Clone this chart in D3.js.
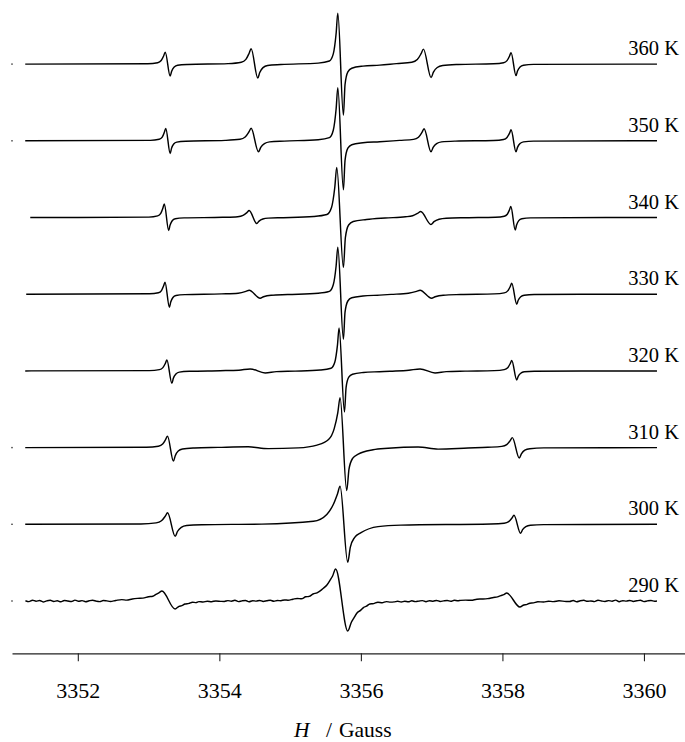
<!DOCTYPE html>
<html>
<head>
<meta charset="utf-8">
<script src="https://cdn.jsdelivr.net/npm/d3@7"></script>
<style>
  body { margin: 0; background: #fff; }
  svg { display: block; }
</style>
</head>
<body>
<svg id="chart" width="685" height="742"></svg>
<script>
// EPR spectra, one trace per temperature, stacked from 290 K (bottom) to 360 K (top).
// Each trace: [field in Gauss, signal in arbitrary units relative to its own baseline].
const temperatures = ["290 K", "300 K", "310 K", "320 K", "330 K", "340 K", "350 K", "360 K"];
const fieldTicks = [3352, 3354, 3356, 3358, 3360];
const fieldRange = [3351.07, 3360.58];
const strayField = 3351.07;
const strayTemps = ["290 K", "300 K", "310 K", "350 K", "360 K"];

const trace360 = [
  [3351.257,0],[3352.988,0.4],[3353.129,1.4],[3353.178,3.6],[3353.214,8.4],[3353.235,12],[3353.305,-12],[3353.326,-7.2],[3353.362,-3],[3353.411,-1.2],[3353.552,-0.4],
  [3354.123,0.5],[3354.310,1.9],[3354.375,4.7],[3354.421,10.9],[3354.449,15.5],[3354.543,-14],[3354.571,-8.4],[3354.617,-3.5],[3354.682,-1.4],[3354.869,-0.4],
  [3355.397,1.0],[3355.555,3.1],[3355.610,10.2],[3355.650,30.6],[3355.674,51],[3355.753,-51],[3355.776,-20.4],[3355.816,-7.7],[3355.871,-4.1],[3356.029,-2.0],[3356.266,-1.0],
  [3356.503,0.5],[3356.720,1.8],[3356.797,4.5],[3356.851,10.5],[3356.884,15],[3356.992,-13.5],[3357.025,-8.1],[3357.079,-3.4],[3357.156,-1.4],[3357.373,-0.4],
  [3357.875,0.3],[3358.016,1.4],[3358.065,3.5],[3358.101,8.1],[3358.122,11.5],[3358.192,-11.5],[3358.213,-6.9],[3358.249,-2.9],[3358.298,-1.2],[3358.439,-0.3],
  [3360.184,0]
];

const trace350 = [
  [3351.257,0],[3353.025,0.4],[3353.150,1.5],[3353.193,3.7],[3353.224,8.7],[3353.243,12.4],[3353.305,-12.7],[3353.324,-7.6],[3353.355,-3.2],[3353.398,-1.3],[3353.523,-0.4],
  [3354.083,0.4],[3354.292,1.5],[3354.365,3.8],[3354.417,8.8],[3354.449,12.5],[3354.553,-11],[3354.585,-6.6],[3354.637,-2.8],[3354.710,-1.1],[3354.919,-0.3],
  [3355.397,1.1],[3355.555,3.2],[3355.610,10.6],[3355.650,31.8],[3355.674,53],[3355.753,-49],[3355.776,-19.6],[3355.816,-7.4],[3355.871,-3.9],[3356.029,-2.0],[3356.266,-1.0],
  [3356.547,0.4],[3356.744,1.4],[3356.814,3.6],[3356.863,8.4],[3356.893,12],[3356.991,-11],[3357.021,-6.6],[3357.070,-2.8],[3357.140,-1.1],[3357.337,-0.3],
  [3357.875,0.3],[3358.016,1.3],[3358.065,3.3],[3358.101,7.7],[3358.122,11],[3358.192,-11],[3358.213,-6.6],[3358.249,-2.8],[3358.298,-1.1],[3358.439,-0.3],
  [3360.184,0]
];

const trace340 = [
  [3351.328,0],[3353.004,0.4],[3353.129,1.6],[3353.172,4.1],[3353.203,9.5],[3353.222,13.5],[3353.284,-13],[3353.303,-7.8],[3353.334,-3.3],[3353.377,-1.3],[3353.502,-0.4],
  [3354.045,0.2],[3354.260,0.8],[3354.335,2.1],[3354.389,4.9],[3354.421,7],[3354.529,-6],[3354.561,-3.6],[3354.615,-1.5],[3354.690,-0.6],[3354.905,-0.2],
  [3355.333,1.0],[3355.520,3.0],[3355.585,10],[3355.631,30],[3355.659,50],[3355.753,-50],[3355.781,-20],[3355.827,-7.5],[3355.892,-4],[3356.079,-2],
  [3356.342,-0.5],[3356.630,0.7],[3356.731,1.8],[3356.803,4.2],[3356.846,6],[3356.990,-7],[3357.033,-4.2],[3357.105,-1.8],[3357.206,-0.7],[3357.494,-0.2],
  [3357.901,0.3],[3358.026,1.3],[3358.069,3.3],[3358.100,7.7],[3358.119,11],[3358.181,-12.5],[3358.200,-7.5],[3358.231,-3.1],[3358.274,-1.3],[3358.399,-0.4],
  [3360.184,0]
];

const trace330 = [
  [3351.271,0],[3353.014,0.4],[3353.139,1.4],[3353.182,3.6],[3353.213,8.4],[3353.232,12],[3353.294,-13],[3353.313,-7.8],[3353.344,-3.3],[3353.387,-1.3],[3353.512,-0.4],
  [3354.033,0.3],[3354.266,1.0],[3354.375,2.8],[3354.421,4],[3354.577,-4],[3354.623,-2.6],[3354.732,-1.0],[3354.965,-0.3],
  [3355.397,0.9],[3355.555,2.8],[3355.610,9.4],[3355.650,28.2],[3355.674,47],[3355.753,-45],[3355.776,-18],[3355.816,-6.8],[3355.871,-3.6],[3356.029,-1.8],[3356.266,-0.9],
  [3356.427,-0.2],[3356.672,1.0],[3356.787,2.8],[3356.836,4],[3357.000,-4],[3357.049,-2.6],[3357.164,-1.0],[3357.409,-0.3],
  [3357.885,0.3],[3358.026,1.3],[3358.075,3.3],[3358.111,7.7],[3358.132,11],[3358.202,-10],[3358.223,-6],[3358.259,-2.5],[3358.308,-1.0],[3358.449,-0.3],
  [3360.184,0]
];

const trace320 = [
  [3351.257,0],[3353.012,0.3],[3353.153,1.3],[3353.202,3.3],[3353.238,7.7],[3353.259,11],[3353.329,-12.4],[3353.350,-7.4],[3353.386,-3.1],[3353.435,-1.2],[3353.576,-0.4],
  [3354.011,0.2],[3354.276,0.7],[3354.435,2],[3354.647,-2],[3354.806,-0.7],[3355.071,-0.2],
  [3355.425,0.9],[3355.578,2.6],[3355.631,8.6],[3355.669,25.8],[3355.692,43],[3355.768,-41],[3355.791,-16.4],[3355.829,-6.2],[3355.882,-3.3],[3356.035,-1.6],[3356.263,-0.8],
  [3356.412,-0.3],[3356.677,0.7],[3356.836,2],[3357.048,-2],[3357.207,-0.7],[3357.472,-0.2],
  [3357.885,0.3],[3358.026,1.3],[3358.075,3.2],[3358.111,7.4],[3358.132,10.5],[3358.202,-9],[3358.223,-5.4],[3358.259,-2.3],[3358.308,-0.9],[3358.449,-0.3],
  [3360.184,0]
];

const trace310 = [
  [3351.257,0],[3352.970,0.3],[3353.139,1.4],[3353.199,3.5],[3353.241,8.1],[3353.267,11.5],[3353.351,-13.5],[3353.377,-8.1],[3353.419,-3.4],[3353.479,-1.4],[3353.648,-0.4],
  [3353.983,0.2],[3354.407,0.8],[3354.689,-1],[3355.113,-0.3],
  [3355.380,2.5],[3355.543,8],[3355.623,19],[3355.674,35],[3355.706,50],[3355.800,-43],[3355.832,-21.5],[3355.883,-10.8],[3355.963,-6.5],[3356.172,-2.2],
  [3356.384,-0.7],[3356.808,0.6],[3357.090,-1.5],[3357.514,-0.4],
  [3357.794,0.3],[3357.991,1.2],[3358.061,3],[3358.110,7],[3358.140,10],[3358.238,-10.5],[3358.268,-6.3],[3358.317,-2.6],[3358.387,-1.1],[3358.584,-0.3],
  [3360.184,0]
];

const trace300 = [
  [3351.257,0],[3352.892,0.3],[3353.107,1.4],[3353.182,3.5],[3353.236,8.1],[3353.268,11.5],[3353.376,-12],[3353.408,-7.2],[3353.462,-3],[3353.537,-1.2],[3353.752,-0.4],
  [3354.600,0.2],[3355.330,3.0],[3355.518,9.9],[3355.610,19.8],[3355.669,30.4],[3355.706,38],[3355.814,-38],[3355.851,-22.8],[3355.910,-13.3],[3356.002,-8.4],[3356.243,-2.3],[3356.566,-0.8],
  [3357.837,0.3],[3358.024,1.1],[3358.089,2.7],[3358.135,6.3],[3358.163,9],[3358.257,-9],[3358.285,-5.4],[3358.331,-2.3],[3358.396,-0.9],[3358.583,-0.3],
  [3360.184,0]
];

const trace290 = [
  [3351.26,0.3],[3351.31,-0.6],[3351.36,0.8],[3351.41,-0.2],[3351.46,0.5],[3351.51,-0.9],[3351.56,0.1],[3351.61,0.7],[3351.66,-0.4],[3351.71,0.2],
  [3351.76,-0.8],[3351.81,0.6],[3351.86,0.0],[3351.91,-0.5],[3351.96,0.9],[3352.01,-0.3],[3352.06,0.4],[3352.11,-0.7],[3352.16,0.2],[3352.21,0.8],
  [3352.26,-0.1],[3352.31,-0.6],[3352.36,0.5],[3352.41,0.1],[3352.46,-0.4],
  [3352.535,0.5],[3352.62,1.4],[3352.69,0.9],[3352.77,2.0],[3352.843,2.6],[3352.92,2.9],[3353.001,4.3],[3353.06,4.8],[3353.104,6.6],[3353.15,8.4],[3353.188,10],
  [3353.374,-8],[3353.430,-5.3],[3353.47,-4.6],[3353.514,-3.0],[3353.57,-2.4],[3353.62,-1.2],[3353.67,-1.6],[3353.710,-0.6],[3353.77,-1.0],[3353.83,-0.2],[3353.89,-0.7],[3353.95,0.1],[3354.027,-0.4],
  [3354.07,-0.5],[3354.12,0.4],[3354.17,-0.2],[3354.22,0.7],[3354.27,-0.6],[3354.32,0.1],[3354.37,0.5],[3354.42,-0.8],[3354.47,0.3],[3354.52,-0.1],
  [3354.57,0.6],[3354.62,-0.4],[3354.67,0.2],[3354.72,0.8],[3354.77,-0.3],[3354.82,0.5],[3354.87,0.3],[3354.92,1.1],[3354.97,0.8],
  [3355.039,1.8],[3355.10,2.6],[3355.16,2.2],[3355.22,4.2],[3355.27,4.6],[3355.324,7],[3355.38,8.2],[3355.43,10.4],[3355.470,12.8],[3355.52,16.0],[3355.565,20.8],[3355.60,25],[3355.643,32],
  [3355.815,-30],[3355.867,-21],[3355.90,-17.2],[3355.945,-12],[3355.99,-9.6],[3356.04,-6.3],[3356.08,-5.1],[3356.126,-3],[3356.18,-2.6],[3356.24,-1.2],[3356.30,-1.7],[3356.36,-0.6],[3356.419,-1.1],
  [3356.47,-0.9],[3356.52,-0.3],[3356.57,-1.0],[3356.62,-0.2],[3356.67,-0.8],[3356.72,0.2],[3356.77,-0.6],[3356.82,-0.1],[3356.87,0.4],[3356.92,-0.7],
  [3356.97,0.3],[3357.02,-0.2],[3357.07,0.6],[3357.12,-0.5],[3357.17,0.1],[3357.22,0.5],[3357.27,-0.3],[3357.32,0.7],[3357.37,0.2],
  [3357.408,0.6],[3357.48,0.9],[3357.56,0.7],[3357.64,1.8],[3357.716,2.0],[3357.79,2.4],[3357.874,3.5],[3357.93,4.1],[3357.977,5.4],[3358.02,6.4],[3358.061,8],
  [3358.247,-6],[3358.303,-4.0],[3358.34,-3.6],[3358.387,-2.2],[3358.44,-1.9],[3358.50,-0.8],[3358.583,-1.0],[3358.65,-0.2],[3358.72,-0.6],[3358.80,0.2],[3358.900,-0.4],
  [3358.95,-0.4],[3359.00,0.5],[3359.05,-0.8],[3359.10,0.2],[3359.15,0.7],[3359.20,-0.3],[3359.25,0.1],[3359.30,-0.6],[3359.35,0.8],[3359.40,0.0],
  [3359.45,-0.5],[3359.50,0.4],[3359.55,-0.2],[3359.60,0.9],[3359.65,-0.7],[3359.70,0.3],[3359.75,-0.1],[3359.80,0.6],[3359.85,-0.4],[3359.90,0.2],
  [3359.95,0.7],[3360.00,-0.6],[3360.05,0.1],[3360.10,0.5],[3360.15,-0.2],[3360.184,0]
];

const traces = [trace290, trace300, trace310, trace320, trace330, trace340, trace350, trace360];

// Layout
const axisY = 653.3;
const traceStep = 76.7;           // vertical offset between stacked spectra, signal units
const serif = "'Liberation Serif', 'Times New Roman', serif";

const svg = d3.select("#chart");

const x = d3.scaleLinear().domain(fieldRange).range([12, 685]);
const y = d3.scaleLinear().domain([-60, 600]).range([661, 1]);

const offsetOf = i => i * traceStep;

const lineFor = i => d3.line()
  .x(d => x(d[0]))
  .y(d => y(d[1] + offsetOf(i)))
  .curve(d3.curveMonotoneX);

// Spectra
svg.append("g")
  .selectAll("path")
  .data(traces)
  .join("path")
  .attr("d", (d, i) => lineFor(i)(d))
  .attr("fill", "none")
  .attr("stroke", "#000")
  .attr("stroke-width", 1.45)
  .attr("stroke-linejoin", "round");

// Isolated leading points at the start of the field range
svg.append("g")
  .selectAll("rect")
  .data(strayTemps)
  .join("rect")
  .attr("x", x(strayField) - 0.7)
  .attr("y", t => y(offsetOf(temperatures.indexOf(t))) - 0.7)
  .attr("width", 1.4)
  .attr("height", 1.4)
  .attr("fill", "#333");

// Temperature labels
svg.append("g")
  .selectAll("text")
  .data(temperatures)
  .join("text")
  .attr("x", 679)
  .attr("y", (t, i) => y(offsetOf(i)) - 9)
  .attr("text-anchor", "end")
  .attr("font-family", serif)
  .attr("font-size", 20.5)
  .attr("fill", "#000")
  .text(t => t);

// Field axis
const axis = svg.append("g")
  .attr("transform", `translate(0,${axisY})`)
  .call(d3.axisBottom(x)
    .tickValues(fieldTicks)
    .tickSize(8)
    .tickSizeOuter(0)
    .tickFormat(d3.format("d")));

axis.select(".domain").attr("stroke", "#222").attr("stroke-width", 1.3);
axis.selectAll(".tick line").attr("stroke", "#222").attr("stroke-width", 1.1);
axis.selectAll(".tick text")
  .attr("y", 44.5)
  .attr("dy", 0)
  .attr("font-family", serif)
  .attr("font-size", 22)
  .attr("fill", "#000");

// Axis title
const title = svg.append("text")
  .attr("y", 736.5)
  .attr("font-family", serif)
  .attr("font-size", 21.5)
  .attr("fill", "#000");
title.append("tspan").attr("x", 294).attr("font-style", "italic").text("H");
title.append("tspan").attr("x", 326).text("/");
title.append("tspan").attr("x", 339).text("Gauss");
</script>
</body>
</html>
